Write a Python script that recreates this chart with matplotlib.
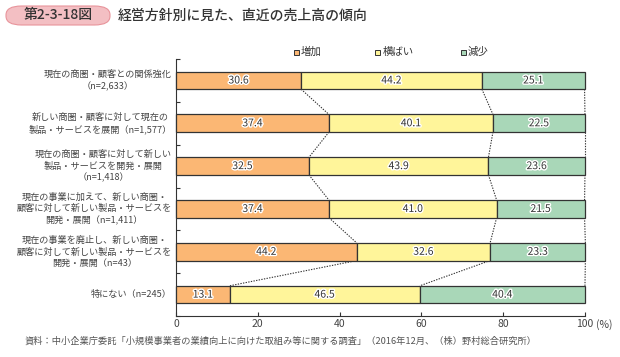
import matplotlib
matplotlib.use("Agg")
import matplotlib.pyplot as plt
import matplotlib.patheffects as pe
from matplotlib.patches import FancyBboxPatch
import numpy as np

plt.rcParams["font.family"] = ["Noto Sans CJK JP", "DejaVu Sans"]

categories = [
    "現在の商圏・顧客との関係強化\n（n=2,633）",
    "新しい商圏・顧客に対して現在の\n製品・サービスを展開（n=1,577）",
    "現在の商圏・顧客に対して新しい\n製品・サービスを開発・展開\n（n=1,418）",
    "現在の事業に加えて、新しい商圏・\n顧客に対して新しい製品・サービスを\n開発・展開（n=1,411）",
    "現在の事業を廃止し、新しい商圏・\n顧客に対して新しい製品・サービスを\n開発・展開（n=43）",
    "特にない（n=245）",
]
increase = [30.6, 37.4, 32.5, 37.4, 44.2, 13.1]
flat = [44.2, 40.1, 43.9, 41.0, 32.6, 46.5]
decrease = [25.1, 22.5, 23.6, 21.5, 23.3, 40.4]
series_names = ["増加", "横ばい", "減少"]
colors = ["#FBB774", "#FFF59A", "#A9D7B8"]
xticks = [0, 20, 40, 60, 80, 100]

fig = plt.figure(figsize=(6.2, 3.57), dpi=100)
ax = fig.add_axes([0.2839, 0.1148, 0.6596, 0.7199])

y = np.arange(len(categories))
h = 0.41
left = np.zeros(len(categories))
halo = [pe.withStroke(linewidth=2, foreground="white")]
for vals, name, col in zip((increase, flat, decrease), series_names, colors):
    vals = np.array(vals)
    ax.barh(y, vals, left=left, height=h, color=col, edgecolor="#333333",
            linewidth=0.9, label=name, zorder=3, clip_on=False)
    for yi, l, v in zip(y, left, vals):
        ax.text(l + v / 2, yi, f"{v:.1f}", ha="center", va="center", fontsize=7.5,
                color="#333333", path_effects=halo, zorder=4)
    left = left + vals

# dotted connectors between bars
b1 = np.array(increase)
b2 = b1 + np.array(flat)
b3 = b2 + np.array(decrease)
for bounds in (b1, b2, b3):
    for i in range(len(categories) - 1):
        ax.plot([bounds[i], bounds[i + 1]], [i + h / 2, i + 1 - h / 2],
                linestyle=(0, (1.2, 1.2)), color="#333333", linewidth=0.8,
                zorder=2, clip_on=False)

ax.set_xlim(0, 100)
ax.set_ylim(len(categories) - 0.5, -0.5)
ax.set_xticks(xticks)
ax.set_xticklabels([str(t) for t in xticks])
ax.set_yticks(np.arange(len(categories) + 1) - 0.5)
ax.set_yticklabels([])
ax.tick_params(axis="both", direction="in", length=3, width=0.8, color="#333333",
               labelsize=7.5, labelcolor="#444444")
ax.tick_params(axis="x", pad=2)
for s in ("top", "right"):
    ax.spines[s].set_visible(False)
for s in ("left", "bottom"):
    ax.spines[s].set_color("#333333")
    ax.spines[s].set_linewidth(0.8)

for yi, cat in zip(y, categories):
    ax.text(-1.0, yi, cat, ha="right", va="center", multialignment="center",
            fontsize=6.6, color="#444444", linespacing=1.3)

ax.annotate("(%)", xy=(100, 0), xycoords=ax.get_xaxis_transform(),
            xytext=(8, -2), textcoords="offset points",
            ha="left", va="top", fontsize=7.5, color="#444444")

# legend
leg_x = [296, 378, 463]
for lx, name, col in zip(leg_x, series_names, colors):
    fig.patches.append(plt.Rectangle(((lx - 2.5) / 620, 1 - 54.5 / 357), 5 / 620, 5 / 357,
                                     transform=fig.transFigure, facecolor=col,
                                     edgecolor="#333333", linewidth=0.7))
    fig.text((lx + 5) / 620, 1 - 52 / 357, name, ha="left", va="center",
             fontsize=7.5, color="#333333")

# title
box = FancyBboxPatch((6 / 620, 1 - 25 / 357), 104 / 620, 19 / 357,
                     boxstyle="round,pad=0,rounding_size=0.025",
                     transform=fig.transFigure, facecolor="#F3BFC3",
                     edgecolor="#E8949B", linewidth=0.8)
fig.patches.append(box)
fig.text(58 / 620, 1 - 15.5 / 357, "第2-3-18図", ha="center", va="center",
         fontsize=10, color="#333333", fontweight="medium")
fig.text(118 / 620, 1 - 15.5 / 357, "経営方針別に見た、直近の売上高の傾向",
         ha="left", va="center", fontsize=10, color="#333333", fontweight="medium")

fig.text(25 / 620, 1 - 341 / 357,
         "資料：中小企業庁委託「小規模事業者の業績向上に向けた取組み等に関する調査」（2016年12月、（株）野村総合研究所）",
         ha="left", va="center", fontsize=6.65, color="#555555")

fig.savefig("out.png", dpi=100)
